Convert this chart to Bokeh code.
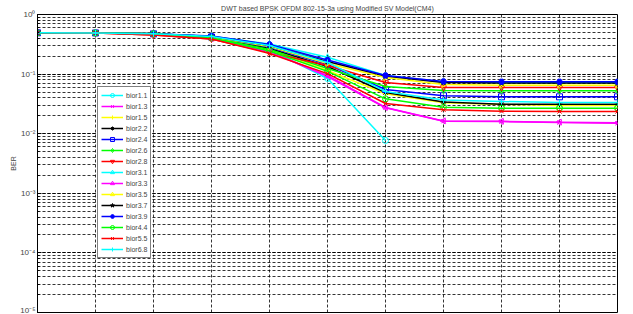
import math
from bokeh.plotting import figure
from bokeh.models import FixedTicker, Legend, LegendItem, CustomJSTickFormatter
from bokeh.embed import file_html
from bokeh.resources import INLINE

snr = [0, 2, 4, 6, 8, 10, 12, 14, 16, 18, 20]

names = ["bior1.1", "bior1.3", "bior1.5", "bior2.2", "bior2.4", "bior2.6", "bior2.8",
         "bior3.1", "bior3.3", "bior3.5", "bior3.7", "bior3.9", "bior4.4", "bior5.5", "bior6.8"]

bior1_1 = [0.493, 0.490, 0.474, 0.403, 0.259, 0.0844, 0.0077]
bior1_3 = [0.493, 0.490, 0.474, 0.396, 0.239, 0.0912, 0.0272, 0.0162, 0.0160, 0.0154, 0.0150]
bior1_5 = [0.493, 0.490, 0.474, 0.403, 0.249, 0.115, 0.0467, 0.0330, 0.0310, 0.0296, 0.0296]
bior2_2 = [0.493, 0.490, 0.474, 0.411, 0.269, 0.134, 0.0491, 0.0340, 0.0313, 0.0313, 0.0313]
bior2_4 = [0.493, 0.490, 0.474, 0.419, 0.285, 0.145, 0.0552, 0.0433, 0.0416, 0.0416, 0.0416]
bior2_6 = [0.493, 0.490, 0.474, 0.411, 0.259, 0.124, 0.0619, 0.0531, 0.0525, 0.0525, 0.0525]
bior2_8 = [0.493, 0.490, 0.453, 0.388, 0.230, 0.139, 0.0723, 0.0596, 0.0596, 0.0596, 0.0596]
bior3_1 = [0.493, 0.490, 0.474, 0.432, 0.320, 0.192, 0.0948, 0.0737, 0.0725, 0.0725, 0.0725]
bior3_3 = [0.493, 0.490, 0.474, 0.396, 0.235, 0.0948, 0.0275, 0.0164, 0.0161, 0.0156, 0.0152]
bior3_5 = [0.493, 0.490, 0.474, 0.419, 0.290, 0.151, 0.0877, 0.0669, 0.0651, 0.0651, 0.0651]
bior3_7 = [0.493, 0.490, 0.474, 0.428, 0.302, 0.163, 0.0929, 0.0725, 0.0710, 0.0710, 0.0710]
bior3_9 = [0.493, 0.490, 0.474, 0.436, 0.314, 0.172, 0.0948, 0.0752, 0.0743, 0.0743, 0.0743]
bior4_4 = [0.493, 0.490, 0.474, 0.403, 0.244, 0.111, 0.0385, 0.0278, 0.0268, 0.0268, 0.0268]
bior5_5 = [0.493, 0.490, 0.453, 0.388, 0.222, 0.102, 0.0321, 0.0252, 0.0239, 0.0236, 0.0236]
bior6_8 = [0.493, 0.490, 0.474, 0.428, 0.302, 0.157, 0.0511, 0.0368, 0.0347, 0.0334, 0.0334]

series = [bior1_1, bior1_3, bior1_5, bior2_2, bior2_4, bior2_6, bior2_8,
          bior3_1, bior3_3, bior3_5, bior3_7, bior3_9, bior4_4, bior5_5, bior6_8]

colors = ["#00ffff", "#ff00ff", "#ffff00", "#000000", "#0000ff", "#00ff00", "#ff0000"]
markers = [("circle", 0, False), ("x", 0, False), ("cross", 0, False), ("asterisk", 0, False),
           ("square", 0, False), ("diamond", 0, False), ("inverted_triangle", 0, False),
           ("triangle", 0, False), ("triangle", math.pi / 2, False), ("triangle", -math.pi / 2, False),
           ("star", 0, True), ("hex", 0, True)]

title = "DWT based BPSK OFDM 802-15-3a using Modified SV Model(CM4)"
FONT = "Liberation Sans"

p = figure(width=633, height=314, y_axis_type="log", output_backend="svg",
           toolbar_location=None, x_range=(0, 20), y_range=(1e-5, 1),
           x_axis_location=None, min_border_left=37, min_border_right=16,
           min_border_top=14, min_border_bottom=2)

p.title.text = title
p.title.text_font = FONT
p.title.text_font_size = "7px"
p.title.text_font_style = "normal"
p.title.align = "center"
p.title.standoff = 5
p.title.offset = 0

p.outline_line_color = "black"
p.outline_line_width = 1

# grids
p.xgrid.ticker = FixedTicker(ticks=snr)
for g in (p.xgrid, p.ygrid):
    g.grid_line_color = "black"
    g.grid_line_dash = "3 2"
    g.grid_line_width = 0.8
p.ygrid.minor_grid_line_color = "black"
p.ygrid.minor_grid_line_dash = "3 2"
p.ygrid.minor_grid_line_width = 0.8

fmt = CustomJSTickFormatter(code="""
const e = Math.round(Math.log10(tick));
const sup = {'0':'\u2070','1':'\u00b9','2':'\u00b2','3':'\u00b3','4':'\u2074','5':'\u2075',
             '6':'\u2076','7':'\u2077','8':'\u2078','9':'\u2079','-':'\u207b'};
return '10' + String(e).split('').map(c => sup[c]).join('');
""")

ya = p.yaxis[0]
ya.formatter = fmt
ya.axis_label = "BER"
ya.axis_label_text_font = FONT
ya.axis_label_text_font_size = "7px"
ya.axis_label_text_font_style = "normal"
ya.axis_label_standoff = 0
ya.major_label_text_font = FONT
ya.major_label_text_font_size = "8px"
ya.major_label_standoff = 2
ya.major_tick_in = 4
ya.major_tick_out = 0
ya.minor_tick_in = 2
ya.minor_tick_out = 0
ya.axis_line_color = "black"

items = []
for i, (name, ys) in enumerate(zip(names, series)):
    c = colors[i % 7]
    mk, ang, filled = markers[i % 12]
    xs = snr[:len(ys)]
    r1 = p.line(xs, ys, line_color=c, line_width=1.5)
    r2 = p.scatter(xs, ys, marker=mk, angle=ang, size=6, line_color=c, line_width=1,
                   fill_color=c if filled else None)
    items.append(LegendItem(label=name, renderers=[r1, r2]))

legend = Legend(items=items, location=(60, 54), label_text_font=FONT,
                label_text_font_size="7px", label_height=10, glyph_height=10,
                glyph_width=22, spacing=1, padding=3, label_standoff=3,
                border_line_color="black", border_line_width=1.5,
                background_fill_color="white", background_fill_alpha=1, margin=0)
p.add_layout(legend, "center")

open("out.html", "w", encoding="utf-8").write(file_html(p, INLINE))
